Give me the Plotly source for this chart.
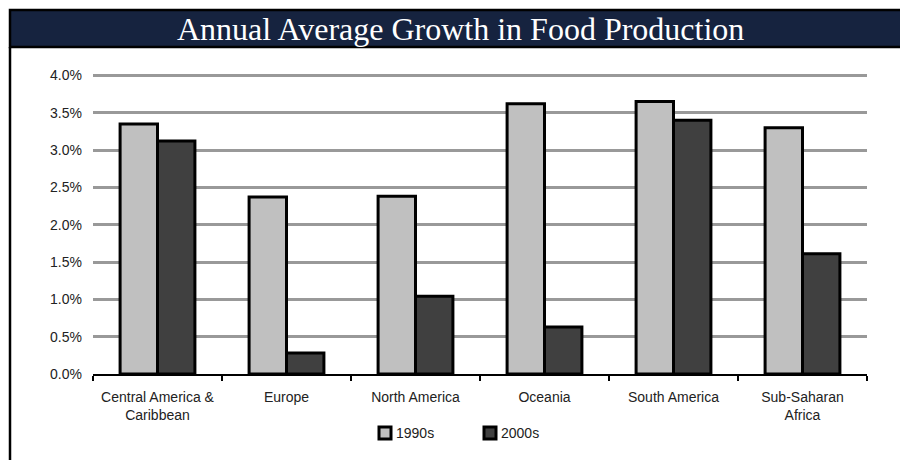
import plotly.graph_objects as go

# Data
regions = ["Central America &<br>Caribbean", "Europe", "North America",
           "Oceania", "South America", "Sub-Saharan<br>Africa"]
series_names = ["1990s", "2000s"]
growth_1990s = [3.35, 2.37, 2.38, 3.62, 3.65, 3.30]
growth_2000s = [3.12, 0.28, 1.04, 0.63, 3.40, 1.61]
y_ticks = [0.0, 0.5, 1.0, 1.5, 2.0, 2.5, 3.0, 3.5, 4.0]
y_tick_text = [f"{v:.1f}%" for v in y_ticks]

series_colors = ["#c0c0c0", "#404040"]

W, H = 900, 460
ML, MR, MT, MB = 93, 33, 74, 86
PW, PH = W - ML - MR, H - MT - MB
Y_TOP = 4.0 + 1.4 / 74.8  # a hair of headroom so the 4.0% gridline is drawn


def px_x(px):
    return (px - ML) / PW


def px_y(py):
    return (H - MB - py) / PH


font_axis = dict(family="Liberation Sans, Arial, sans-serif", size=14, color="#222")

fig = go.Figure()
for name, vals, col in zip(series_names, [growth_1990s, growth_2000s], series_colors):
    fig.add_trace(go.Bar(name=name, x=regions, y=vals, showlegend=False,
                         marker=dict(color=col, line=dict(color="black", width=3))))

# hand-drawn legend: square swatch followed by the series label
legend_shapes, legend_notes = [], []
for i, (name, col) in enumerate(zip(series_names, series_colors)):
    x0 = 378 + i * 105
    legend_shapes.append(dict(type="rect", xref="paper", yref="paper",
                              x0=px_x(x0 + 1), x1=px_x(x0 + 13), y0=px_y(439), y1=px_y(427),
                              fillcolor=col, line=dict(color="black", width=3)))
    legend_notes.append(dict(text=name, xref="paper", yref="paper",
                             x=px_x(x0 + 16), y=px_y(433), xanchor="left", yanchor="middle",
                             showarrow=False, font=font_axis))

fig.update_layout(
    width=W, height=H,
    margin=dict(l=ML, r=MR, t=MT, b=MB),
    paper_bgcolor="white", plot_bgcolor="white",
    barmode="group", bargap=0.42, bargroupgap=0.0,
    font=font_axis,
    showlegend=False,
    xaxis=dict(showline=True, linecolor="black", linewidth=2, ticks="outside",
               tickson="boundaries", ticklen=5, tickwidth=2, tickcolor="black",
               showgrid=False, tickfont=font_axis, ticklabelstandoff=9),
    yaxis=dict(range=[0, Y_TOP], tickvals=y_ticks, ticktext=y_tick_text,
               showgrid=True, gridcolor="#999999", gridwidth=3, zeroline=False,
               showline=False, ticks="", tickfont=font_axis, ticklabelstandoff=10),
    shapes=[
        # title banner
        dict(type="rect", xref="paper", yref="paper",
             x0=px_x(10), x1=px_x(902), y0=px_y(47), y1=px_y(10),
             fillcolor="#16233f", line=dict(color="black", width=2.5), layer="above"),
        # left frame line
        dict(type="line", xref="paper", yref="paper",
             x0=px_x(10), x1=px_x(10), y0=px_y(47), y1=px_y(462),
             line=dict(color="black", width=2.5)),
    ] + legend_shapes,
    annotations=[
        dict(text="Annual Average Growth in Food Production", xref="paper", yref="paper",
             x=px_x(460), y=px_y(29), xanchor="center", yanchor="middle", showarrow=False,
             font=dict(family="Liberation Serif, Times New Roman, serif", size=32, color="white")),
    ] + legend_notes,
)

fig.write_html("out.html")
